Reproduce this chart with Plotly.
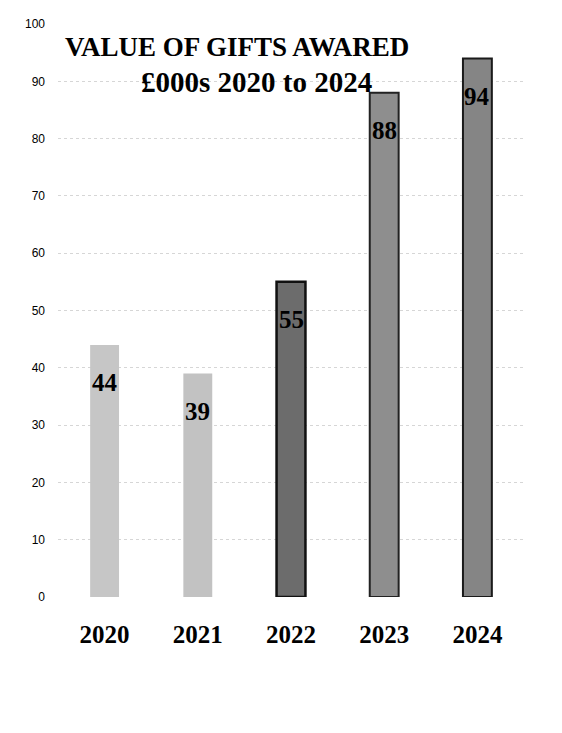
import plotly.graph_objects as go

# Chart data
years = ["2020", "2021", "2022", "2023", "2024"]
values = [44, 39, 55, 88, 94]
fill_colors = ["#c6c6c6", "#c2c2c2", "#6c6c6c", "#8e8e8e", "#858585"]
outline_colors = ["#c6c6c6", "#c2c2c2", "#111111", "#222222", "#1a1a1a"]
outline_widths = [0, 0, 2.5, 2, 2]
y_ticks = [0, 10, 20, 30, 40, 50, 60, 70, 80, 90, 100]

serif = "Liberation Serif"

fig = go.Figure()
fig.add_trace(go.Bar(
    x=years,
    y=values,
    width=0.31,
    marker=dict(
        color=fill_colors,
        line=dict(color=outline_colors, width=outline_widths),
    ),
    hoverinfo="skip",
))

# Value labels sit inside each bar, a little below its top
for i, v in enumerate(values):
    fig.add_annotation(
        x=i, y=v, text=str(v), showarrow=False, yshift=-38,
        font=dict(family=serif, size=25, color="black", weight="bold"),
    )

# Two-line heading
fig.add_annotation(
    xref="paper", yref="paper", x=0.384, y=1.0, yshift=-6,
    text="VALUE OF GIFTS AWARED", showarrow=False,
    font=dict(family=serif, size=27, color="black", weight="bold"),
)
fig.add_annotation(
    xref="paper", yref="paper", x=0.425, y=1.0, yshift=-40,
    text="£000s 2020 to 2024", showarrow=False,
    font=dict(family=serif, size=29, color="black", weight="bold"),
)

fig.update_layout(
    width=562, height=733,
    margin=dict(l=58, r=38, t=24, b=136),
    paper_bgcolor="white", plot_bgcolor="white",
    showlegend=False,
)
fig.update_yaxes(
    range=[0, 100], tickvals=y_ticks, showline=False, zeroline=False,
    showgrid=True, gridcolor="#d6d6d6", griddash="dot", gridwidth=1,
    tickfont=dict(family="Liberation Sans", size=12, color="black"),
    ticklabelstandoff=12,
)
fig.update_xaxes(
    type="category", range=[-0.5, 4.5],
    showline=False, showgrid=False, zeroline=False,
    tickfont=dict(family=serif, size=25, color="black", weight="bold"),
    ticklabelstandoff=20,
)

fig.write_html("out.html")
